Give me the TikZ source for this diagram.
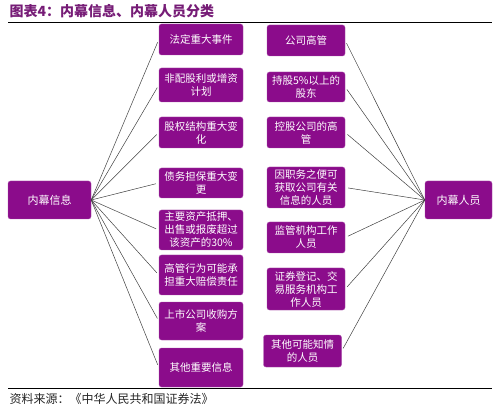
\documentclass[tikz,border=0pt]{standalone}
\usepackage{fontspec}
\setmainfont{Noto Sans CJK SC}
\definecolor{plum}{RGB}{139,12,139}
\definecolor{plumedge}{RGB}{170,80,170}
\definecolor{headplum}{RGB}{118,28,118}

\begin{document}
\begin{tikzpicture}[x=1pt, y=-1pt,
    cell/.style={draw=plumedge, fill=plum, rounded corners=2.5pt, text=white,
      align=center, inner sep=1pt, font=\fontsize{10.5}{13}\selectfont},
    lcell/.style={cell, minimum width=84pt},
    rcell/.style={cell, minimum width=78pt},
    hub/.style={cell, minimum height=38pt, font=\fontsize{11}{13}\selectfont},
    link/.style={draw=black!75, line width=0.5pt}]
    \useasboundingbox (0,0) rectangle (500,411);
    % title and rules
    \node[anchor=west, text=headplum, font=\bfseries\fontsize{14}{16}\selectfont] (title) at (6,11) {图表4：内幕信息、内幕人员分类};
    \draw[line width=0.8pt] (8,22) -- (492,22);
    \draw[line width=0.8pt] (8,388) -- (492,388);
    \node[anchor=west, text=black!85, font=\fontsize{12}{14}\selectfont] (source) at (6,399) {资料来源：《中华人民共和国证券法》};
    % hubs
    \node[hub, minimum width=83pt] (info) at (49.5,200) {内幕信息};
    \node[hub, minimum width=67pt] (staff) at (458.5,200) {内幕人员};
    % left column
    \node[lcell, minimum height=31pt] (i1) at (201,39.5) {法定重大事件};
    \node[lcell, minimum height=34pt] (i2) at (201,85) {非配股利或增资\\计划};
    \node[lcell, minimum height=31pt] (i3) at (201,132.5) {股权结构重大变\\化};
    \node[lcell, minimum height=30pt] (i4) at (201,183) {债务担保重大变\\更};
    \node[lcell, minimum height=40pt] (i5) at (201,230) {主要资产抵押、\\出售或报废超过\\该资产的30\%};
    \node[lcell, minimum height=40pt] (i6) at (201,275) {高管行为可能承\\担重大赔偿责任};
    \node[lcell, minimum height=38pt] (i7) at (201,321) {上市公司收购方\\案};
    \node[lcell, minimum height=39pt] (i8) at (201,367.5) {其他重要信息};
    % right column
    \node[rcell, minimum height=31pt] (p1) at (306,40.5) {公司高管};
    \node[rcell, minimum height=30pt] (p2) at (306,87) {持股5\%以上的\\股东};
    \node[rcell, minimum height=31pt] (p3) at (306,132.5) {控股公司的高\\管};
    \node[rcell, minimum height=41pt] (p4) at (306,187.5) {因职务之便可\\获取公司有关\\信息的人员};
    \node[rcell, minimum height=31pt] (p5) at (306,237.5) {监管机构工作\\人员};
    \node[rcell, minimum height=42pt] (p6) at (306,289) {证券登记、交\\易服务机构工\\作人员};
    \node[rcell, minimum height=32pt] (p7) at (302.5,351) {其他可能知情\\的人员};
    % connectors
    \foreach \i in {1,...,8}
      \draw[link, shorten >=3pt] (info.east) -- (i\i.west);
    \foreach \i in {1,...,7}
      \draw[link, shorten <=3pt] (p\i.east) -- (staff.west);
  \end{tikzpicture}
\end{document}
